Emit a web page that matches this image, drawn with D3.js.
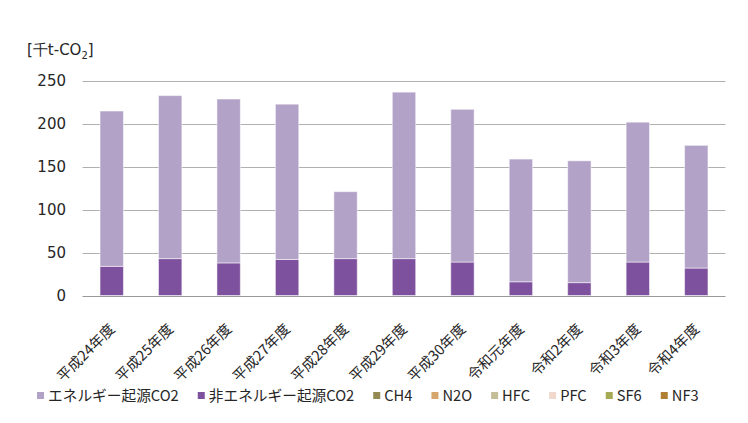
<!DOCTYPE html>
<html>
<head>
<meta charset="utf-8">
<script src="https://cdn.jsdelivr.net/npm/d3@7"></script>
<style>
  body { margin: 0; background: #fff; }
  text { fill: #262626; }
  .cjk { font-family: "Noto Sans CJK JP", sans-serif; }
  .num { font-family: "DejaVu Sans", Verdana, sans-serif; }
</style>
</head>
<body>
<svg width="748" height="423"></svg>
<script>
// fiscal years
const years = ["平成24年度", "平成25年度", "平成26年度", "平成27年度", "平成28年度",
    "平成29年度", "平成30年度", "令和元年度", "令和2年度", "令和3年度", "令和4年度"];

// 千t-CO2
const energyCO2    = [181, 190, 191, 181, 78, 194, 178, 143, 142, 163, 143];
const nonEnergyCO2 = [34, 43, 38, 42, 43, 43, 39, 16, 15, 39, 32];
const ch4 = [0, 0, 0, 0, 0, 0, 0, 0, 0, 0, 0];
const n2o = [0, 0, 0, 0, 0, 0, 0, 0, 0, 0, 0];
const hfc = [0, 0, 0, 0, 0, 0, 0, 0, 0, 0, 0];
const pfc = [0, 0, 0, 0, 0, 0, 0, 0, 0, 0, 0];
const sf6 = [0, 0, 0, 0, 0, 0, 0, 0, 0, 0, 0];
const nf3 = [0, 0, 0, 0, 0, 0, 0, 0, 0, 0, 0];

const yTicks = [0, 50, 100, 150, 200, 250];

// legend order
const seriesNames = ["エネルギー起源CO2", "非エネルギー起源CO2", "CH4", "N2O", "HFC", "PFC", "SF6", "NF3"];
const seriesValues = [energyCO2, nonEnergyCO2, ch4, n2o, hfc, pfc, sf6, nf3];
const colors = ["#b3a2c7", "#7d519e", "#948a54", "#d7a66d", "#c4bd97", "#f0d9cc", "#a6aa55", "#b07f33"];
// stacked bottom to top
const stackOrder = ["非エネルギー起源CO2", "エネルギー起源CO2", "CH4", "N2O", "HFC", "PFC", "SF6", "NF3"];

const rows = years.map((y, i) => {
    let r = { year: y };
    seriesNames.forEach((s, j) => { r[s] = seriesValues[j][i]; });
    return r;
});

const svg = d3.select("svg");
const plotLeft = 82.5, plotRight = 725.5, plotTop = 81, plotBottom = 295.5;

const x = d3.scaleBand().domain(years).range([plotLeft, plotRight]).paddingInner(0.6).paddingOuter(0.3);
const y = d3.scaleLinear().domain([0, 250]).range([plotBottom, plotTop]);
const color = d3.scaleOrdinal().domain(seriesNames).range(colors);

// gridlines (zero line drawn after the bars)
svg.append("g")
    .selectAll("line")
    .data(yTicks.filter(d => d > 0))
    .join("line")
    .attr("x1", plotLeft).attr("x2", plotRight)
    .attr("y1", d => Math.round(y(d)) + 0.5)
    .attr("y2", d => Math.round(y(d)) + 0.5)
    .attr("stroke", "#b0b0b0")
    .attr("stroke-width", 1.2);

// y tick labels
svg.append("g")
    .selectAll("text")
    .data(yTicks)
    .join("text")
    .attr("class", "num")
    .attr("x", 66)
    .attr("y", d => y(d))
    .attr("dy", "0.36em")
    .attr("text-anchor", "end")
    .attr("font-size", 15)
    .text(d => d);

// unit label
const unit = svg.append("text")
    .attr("class", "num")
    .attr("x", 27).attr("y", 55)
    .attr("font-size", 15);
unit.append("tspan").text("[千t-CO");
unit.append("tspan").attr("font-size", 10).attr("dy", 4).text("2");
unit.append("tspan").attr("dy", -4).text("]");

// stacked bars
const stacked = d3.stack().keys(stackOrder)(rows);
svg.append("g")
    .selectAll("g")
    .data(stacked)
    .join("g")
    .attr("fill", d => color(d.key))
    .selectAll("rect")
    .data(d => d.filter(p => p[1] - p[0] > 0))
    .join("rect")
    .attr("x", d => x(d.data.year))
    .attr("width", x.bandwidth())
    .attr("y", d => y(d[1]))
    .attr("height", d => y(d[0]) - y(d[1]))
    .attr("stroke", "#ffffff")
    .attr("stroke-opacity", 0.5)
    .attr("stroke-width", 1);

svg.append("line")
    .attr("x1", plotLeft).attr("x2", plotRight)
    .attr("y1", Math.round(y(0)) + 0.5)
    .attr("y2", Math.round(y(0)) + 0.5)
    .attr("stroke", "#999999")
    .attr("stroke-width", 1.2);

// x labels
svg.append("g")
    .selectAll("text")
    .data(years)
    .join("text")
    .attr("class", "cjk")
    .attr("font-size", 14.5)
    .attr("text-anchor", "end")
    .attr("transform", d => `translate(${x(d) + x.bandwidth() / 2 + 4},330) rotate(-45)`)
    .text(d => d);

// legend
const legend = svg.append("g").attr("transform", "translate(37,396)");
let lx = 0;
seriesNames.forEach(name => {
    let g = legend.append("g").attr("transform", `translate(${lx},0)`);
    g.append("rect")
        .attr("x", 0).attr("y", -4)
        .attr("width", 7).attr("height", 7)
        .attr("fill", color(name));
    let t = g.append("text")
        .attr("class", "cjk")
        .attr("x", 11)
        .attr("dy", "0.35em")
        .attr("font-size", 14.7)
        .text(name);
    lx += 11 + t.node().getComputedTextLength() + 19;
});
</script>
</body>
</html>
